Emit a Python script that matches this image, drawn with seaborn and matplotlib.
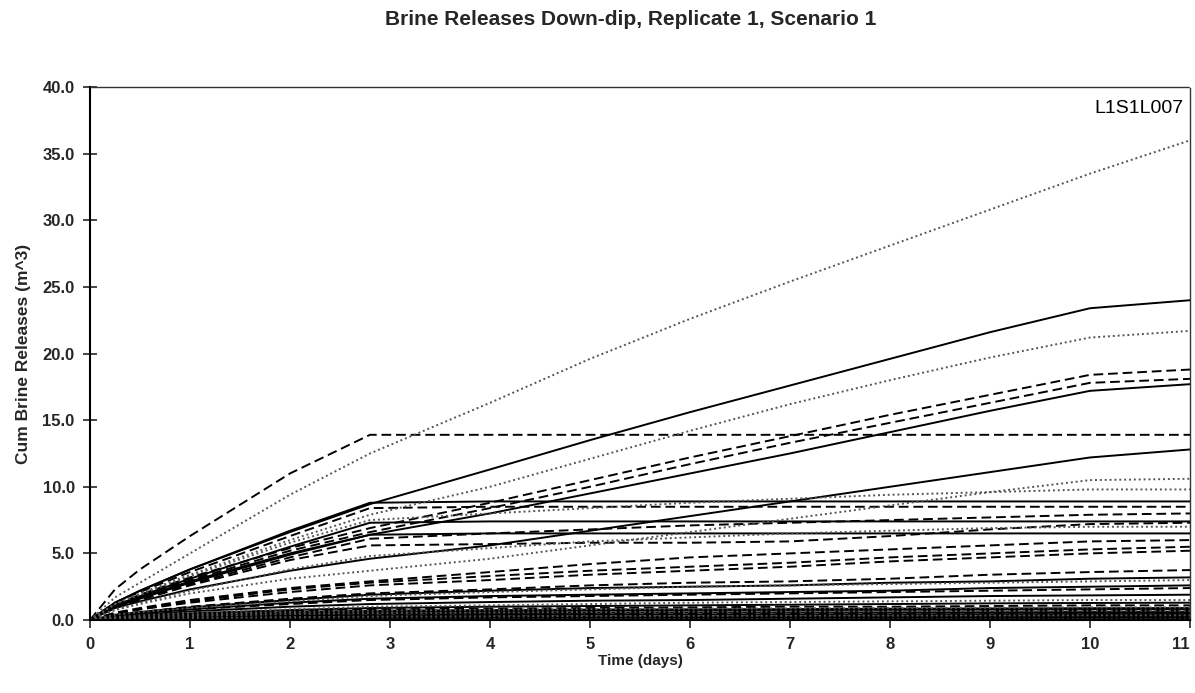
import numpy as np
import pandas as pd
import matplotlib
matplotlib.use("Agg")
import matplotlib.pyplot as plt
import seaborn as sns

times = [0, 0.25, 0.5, 1, 2, 2.8, 4, 5, 6, 7, 8, 9, 10, 11]

# solid black runs
solid_runs = [
    [0, 1.3, 2.2, 3.8, 6.6, 8.7, 11.3, 13.5, 15.6, 17.6, 19.6, 21.6, 23.4, 24.0],
    [0, 1.0, 1.7, 2.9, 5.0, 6.4, 8.0, 9.5, 11.0, 12.5, 14.1, 15.7, 17.2, 17.7],
    [0, 0.9, 1.4, 2.3, 3.7, 4.6, 5.6, 6.7, 7.8, 8.9, 10.0, 11.1, 12.2, 12.8],
    [0, 1.3, 2.2, 3.8, 6.7, 8.8, 8.9, 8.9, 8.9, 8.9, 8.9, 8.9, 8.9, 8.9],
    [0, 1.1, 1.8, 3.1, 5.5, 7.3, 7.4, 7.4, 7.4, 7.4, 7.4, 7.4, 7.4, 7.4],
    [0, 1.0, 1.6, 2.8, 4.9, 6.4, 6.5, 6.5, 6.5, 6.5, 6.5, 6.5, 6.5, 6.5],
    [0, 0.4, 0.6, 0.95, 1.5, 1.9, 2.2, 2.4, 2.5, 2.6, 2.8, 2.9, 3.1, 3.2],
    [0, 0.3, 0.5, 0.8, 1.3, 1.6, 1.8, 1.9, 2.0, 2.1, 2.2, 2.4, 2.5, 2.6],
    [0, 0.25, 0.4, 0.65, 1.0, 1.2, 1.35, 1.45, 1.5, 1.6, 1.7, 1.8, 1.85, 1.9],
    [0, 0.2, 0.3, 0.5, 0.75, 0.9, 1.0, 1.05, 1.1, 1.15, 1.2, 1.25, 1.28, 1.3],
    [0, 0.15, 0.25, 0.4, 0.6, 0.7, 0.75, 0.78, 0.8, 0.82, 0.85, 0.87, 0.89, 0.9],
    [0, 0.12, 0.2, 0.32, 0.5, 0.6, 0.66, 0.7, 0.72, 0.74, 0.76, 0.78, 0.8, 0.8],
    [0, 0.1, 0.15, 0.25, 0.4, 0.48, 0.52, 0.54, 0.56, 0.57, 0.58, 0.59, 0.6, 0.6],
    [0, 0.07, 0.12, 0.2, 0.3, 0.35, 0.38, 0.4, 0.41, 0.42, 0.43, 0.44, 0.45, 0.45],
    [0, 0.05, 0.08, 0.13, 0.2, 0.23, 0.25, 0.26, 0.27, 0.28, 0.29, 0.29, 0.3, 0.3],
    [0, 0.03, 0.05, 0.08, 0.12, 0.15, 0.16, 0.17, 0.18, 0.18, 0.19, 0.19, 0.2, 0.2],
    [0, 0.01, 0.02, 0.03, 0.05, 0.06, 0.06, 0.07, 0.07, 0.07, 0.08, 0.08, 0.08, 0.08],
]

# dashed black runs
dashed_runs = [
    [0, 2.3, 3.8, 6.3, 11.0, 13.9, 13.9, 13.9, 13.9, 13.9, 13.9, 13.9, 13.9, 13.9],
    [0, 1.1, 1.9, 3.2, 5.4, 6.9, 8.8, 10.5, 12.2, 13.8, 15.4, 16.9, 18.4, 18.8],
    [0, 1.1, 1.8, 3.0, 5.2, 6.6, 8.4, 10.0, 11.7, 13.3, 14.8, 16.3, 17.8, 18.1],
    [0, 1.3, 2.1, 3.6, 6.3, 8.4, 8.5, 8.5, 8.5, 8.5, 8.5, 8.5, 8.5, 8.5],
    [0, 0.9, 1.5, 2.6, 4.5, 5.6, 5.7, 5.8, 5.8, 5.9, 6.3, 6.8, 7.2, 7.3],
    [0, 1.0, 1.6, 2.7, 4.7, 6.1, 6.5, 6.8, 7.1, 7.3, 7.5, 7.7, 7.9, 8.0],
    [0, 0.55, 0.9, 1.5, 2.4, 2.9, 3.6, 4.2, 4.7, 5.0, 5.3, 5.6, 5.9, 6.0],
    [0, 0.5, 0.8, 1.4, 2.3, 2.8, 3.3, 3.7, 4.0, 4.3, 4.7, 5.0, 5.3, 5.5],
    [0, 0.5, 0.8, 1.3, 2.1, 2.6, 3.0, 3.4, 3.7, 4.0, 4.4, 4.7, 5.0, 5.2],
    [0, 0.4, 0.6, 1.0, 1.6, 2.0, 2.3, 2.6, 2.8, 2.9, 3.1, 3.4, 3.6, 3.75],
    [0, 0.3, 0.5, 0.8, 1.2, 1.5, 1.7, 1.8, 1.9, 2.0, 2.1, 2.2, 2.3, 2.4],
    [0, 0.2, 0.3, 0.5, 0.7, 0.8, 0.85, 0.9, 0.95, 1.0, 1.0, 1.05, 1.1, 1.1],
    [0, 0.12, 0.2, 0.3, 0.45, 0.55, 0.6, 0.62, 0.65, 0.68, 0.7, 0.72, 0.74, 0.75],
    [0, 0.09, 0.15, 0.25, 0.38, 0.45, 0.48, 0.5, 0.51, 0.52, 0.53, 0.54, 0.55, 0.55],
    [0, 0.06, 0.1, 0.18, 0.26, 0.3, 0.32, 0.34, 0.35, 0.36, 0.37, 0.38, 0.39, 0.4],
    [0, 0.03, 0.05, 0.08, 0.1, 0.11, 0.12, 0.12, 0.13, 0.13, 0.14, 0.14, 0.15, 0.15],
]

# dotted grey runs
dotted_runs = [
    [0, 1.7, 2.8, 5.0, 9.4, 12.5, 16.3, 19.6, 22.6, 25.4, 28.1, 30.8, 33.5, 36.0],
    [0, 1.2, 2.0, 3.4, 6.0, 7.9, 10.0, 12.1, 14.2, 16.2, 18.0, 19.7, 21.2, 21.7],
    [0, 0.75, 1.2, 2.0, 3.1, 3.7, 4.6, 5.6, 6.6, 7.6, 8.6, 9.6, 10.5, 10.6],
    [0, 1.2, 1.9, 3.3, 5.8, 7.5, 8.0, 8.4, 8.8, 9.1, 9.4, 9.6, 9.8, 9.8],
    [0, 0.8, 1.3, 2.2, 3.8, 4.8, 5.4, 5.9, 6.2, 6.5, 6.7, 6.9, 7.0, 7.0],
    [0, 0.4, 0.6, 0.9, 1.4, 1.8, 2.1, 2.3, 2.5, 2.6, 2.7, 2.8, 2.9, 3.0],
    [0, 0.22, 0.35, 0.55, 0.8, 1.0, 1.1, 1.2, 1.3, 1.35, 1.4, 1.45, 1.5, 1.5],
    [0, 0.15, 0.25, 0.4, 0.6, 0.7, 0.78, 0.82, 0.85, 0.88, 0.9, 0.92, 0.95, 0.95],
    [0, 0.12, 0.2, 0.3, 0.45, 0.52, 0.56, 0.6, 0.62, 0.64, 0.66, 0.68, 0.7, 0.7],
    [0, 0.06, 0.1, 0.15, 0.22, 0.26, 0.28, 0.3, 0.31, 0.32, 0.33, 0.34, 0.35, 0.35],
    [0, 0.01, 0.02, 0.03, 0.04, 0.04, 0.04, 0.05, 0.05, 0.05, 0.05, 0.05, 0.05, 0.05],
]

rows = []
for kind, runs in [("solid", solid_runs), ("dashed", dashed_runs), ("dotted", dotted_runs)]:
    for i, run in enumerate(runs):
        for t, v in zip(times, run):
            rows.append({"t": t, "v": v, "kind": kind, "run": f"{kind}{i}"})
df = pd.DataFrame(rows)

sns.set_theme(style="white")
plt.rcParams["font.family"] = ["Liberation Sans", "DejaVu Sans"]

fig = plt.figure(figsize=(11.95, 6.93), dpi=100)
ax = fig.add_axes([0.0753, 0.1053, 0.9205, 0.7691])

sns.lineplot(data=df, x="t", y="v", units="run", estimator=None,
             hue="kind", style="kind",
             palette={"solid": "black", "dashed": "black", "dotted": "#555555"},
             dashes={"solid": "", "dashed": (5, 2.5), "dotted": (1, 1.5)},
             linewidth=1.4, legend=False, ax=ax)

ax.set_xlim(0, 11)
ax.set_ylim(0, 40)
ax.set_xticks(range(0, 12))
ax.set_yticks(np.arange(0, 41, 5))
ax.set_yticklabels([f"{v:.1f}" for v in np.arange(0, 41, 5)])
ax.tick_params(axis="x", direction="out", length=6, width=1.2, labelsize=12, pad=6, bottom=True)
ax.tick_params(axis="y", direction="inout", length=10, width=1.2, labelsize=12, left=True, pad=6)
for lab in ax.get_xticklabels() + ax.get_yticklabels():
    lab.set_fontweight("bold")
ax.get_xticklabels()[-1].set_horizontalalignment("right")

ax.spines["left"].set_linewidth(1.5)
ax.spines["left"].set_color("black")
ax.spines["bottom"].set_linewidth(1.5)
ax.spines["bottom"].set_color("black")
for side in ["top", "right"]:
    ax.spines[side].set_linestyle((0, (1, 1)))
    ax.spines[side].set_color("#333333")
    ax.spines[side].set_linewidth(1.0)

ax.set_xlabel("Time (days)", fontsize=11, fontweight="bold", labelpad=2)
ax.set_ylabel("Cum Brine Releases (m^3)", fontsize=12.5, fontweight="bold", labelpad=8)
fig.suptitle("Brine Releases Down-dip, Replicate 1, Scenario 1",
             x=0.528, y=0.985, fontsize=15, fontweight="bold")
ax.text(0.994, 0.975, "L1S1L007", transform=ax.transAxes, ha="right", va="top",
        fontsize=14, color="black")

fig.savefig("out.png", dpi=100)
